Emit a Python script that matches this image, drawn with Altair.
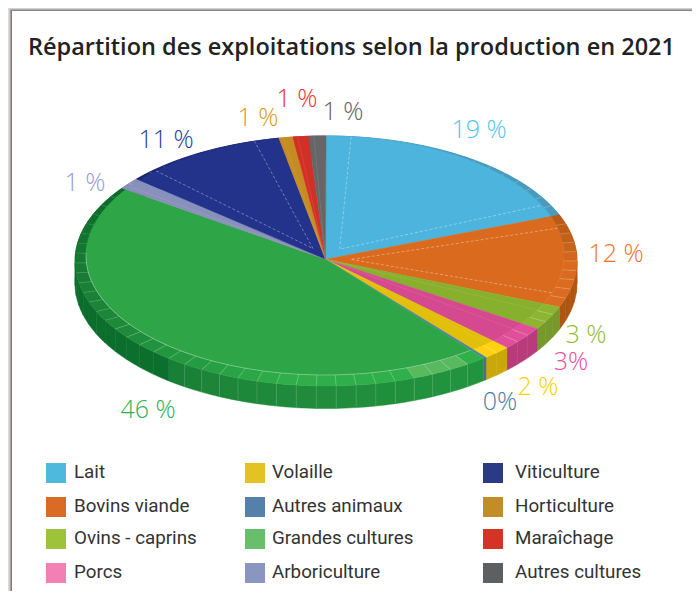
import math
import altair as alt

# ---------- data ----------
categories = ["Lait", "Bovins viande", "Ovins - caprins", "Porcs", "Volaille", "Autres animaux",
              "Grandes cultures", "Arboriculture", "Viticulture", "Horticulture", "Maraîchage", "Autres cultures"]
shares = [19.0, 12.0, 3.1, 3.1, 1.8, 0.2, 45.7, 1.5, 10.6, 0.9, 1.0, 1.1]
labels = ["19 %", "12 %", "3 %", "3%", "2 %", "0%", "46 %", "1 %", "11 %", "1 %", "1 %", "1 %"]

# ---------- styles ----------
top_colors = ["#4cb4dd", "#d96a1e", "#88b02f", "#d4498f", "#e2bf09", "#5580a8",
              "#2ea546", "#8891bb", "#23328a", "#c48c22", "#d22f26", "#646668"]
rim_stops = [[(0, "#4a9abb"), (1, "#4a9abb")],
             [(0, "#b75a14"), (.3, "#c4611a"), (.55, "#d96a1f"), (1, "#dc6c20")],
             [(0, "#8db532"), (1, "#8db532")],
             [(0, "#e0509a"), (1, "#e0509a")],
             [(0, "#ffd20f"), (1, "#ffd20f")],
             [(0, "#5580a8"), (1, "#5580a8")],
             [(0, "#2fb04a"), (.035, "#2fb04a"), (.04, "#58b95f"), (.12, "#58b95f"), (.125, "#2fb04a"),
              (.30, "#2fae49"), (.40, "#27a044"), (.55, "#1f8d3b"), (.75, "#177c34"), (.9, "#0f702d"), (1, "#0b6a2a")],
             [(0, "#8891bb"), (1, "#8891bb")],
             [(0, "#1a2770"), (1, "#1a2770")],
             [(0, "#c48c22"), (1, "#c48c22")],
             [(0, "#d22f26"), (1, "#d22f26")],
             [(0, "#646668"), (1, "#646668")]]
wall_stops = [[(0, "#3f8fae"), (1, "#3f8fae")],
              [(0, "#ae5511"), (1, "#ae5511")],
              [(0, "#76992b"), (1, "#76992b")],
              [(0, "#b83c7c"), (1, "#b83c7c")],
              [(0, "#c9a90a"), (1, "#c9a90a")],
              [(0, "#4a7090"), (1, "#4a7090")],
              [(0, "#22943e"), (.3, "#1f8a3b"), (.4, "#1c8538"), (.46, "#187f37"), (.48, "#0c6f2d"), (1, "#0a6b2a")],
              [(0, "#6f78a0"), (1, "#6f78a0")],
              [(0, "#1a2770"), (1, "#1a2770")],
              [(0, "#a87a1c"), (1, "#a87a1c")],
              [(0, "#b02820"), (1, "#b02820")],
              [(0, "#505254"), (1, "#505254")]]
label_colors = ["#4fc6f2", "#f47028", "#93bb35", "#ea4f9a", "#ffd000", "#4c7da8",
                "#2fb052", "#92a0d6", "#27409b", "#d99a28", "#ee3030", "#626262"]
legend_colors = ["#4fb8dd", "#d96b27", "#9cc33a", "#f280b5", "#e3c324", "#5580a9",
                 "#68bf6b", "#8a96bf", "#2a3a85", "#c28d24", "#d43326", "#5c6063"]

# ---------- layout (chart pixels, i.e. page pixels minus the 8 px margin) ----------
M = 8
CX, CY, RX, RY = 326 - M, 261 - M, 251, 125      # outer ellipse
IX, IY, IRX, IRY = 325 - M, 255.5 - M, 239, 119.5  # inner (bevel) ellipse
AX, AY = 325.5 - M, 259.3 - M                    # apex
DEPTH = 22.5
label_pos = [(479, 130), (616, 254), (586, 335), (571, 362), (538, 387), (500, 402),
             (148, 410), (85, 183), (166, 140), (258, 118), (297, 99), (343, 112)]
legend_x = [46 - M, 245 - M, 483 - M]
legend_tx = [74 - M, 272 - M, 515 - M]
legend_y = [463 - M, 497 - M, 529 - M, 563 - M]


def hex2rgb(h):
    return [int(h[i:i + 2], 16) for i in (1, 3, 5)]


def mix(stops, f):
    for (f0, c0), (f1, c1) in zip(stops, stops[1:]):
        if f <= f1:
            t = 0 if f1 == f0 else (f - f0) / (f1 - f0)
            a, b = hex2rgb(c0), hex2rgb(c1)
            return "#%02x%02x%02x" % tuple(round(x + (y - x) * t) for x, y in zip(a, b))
    return stops[-1][1]


def outer(p):
    t = p / 100 * 2 * math.pi
    return (CX + RX * math.sin(t), CY - RY * math.cos(t))


def inner(p):
    ox, oy = outer(p)
    dx, dy = ox - AX, oy - AY
    ex, ey = AX - IX, AY - IY
    a = (dx / IRX) ** 2 + (dy / IRY) ** 2
    b = 2 * (dx * ex / IRX ** 2 + dy * ey / IRY ** 2)
    c = (ex / IRX) ** 2 + (ey / IRY) ** 2 - 1
    s = (-b + math.sqrt(b * b - 4 * a * c)) / (2 * a)
    s = min(s, 1)
    return (AX + s * dx, AY + s * dy)


def steps(a, b, n):
    return [a + (b - a) * i / n for i in range(n + 1)]


def poly(pts, fill, opacity=1.0):
    pts = [list(p) for p in pts] + [list(pts[0])]
    return {"type": "Feature", "properties": {"fill": fill, "op": opacity},
            "geometry": {"type": "Polygon", "coordinates": [pts]}}


def line(pts, color, opacity):
    return {"type": "Feature", "properties": {"c": color, "op": opacity},
            "geometry": {"type": "LineString", "coordinates": [list(p) for p in pts]}}


SEG = 1.3
walls, rims, tops, seps, wall_seps, dashes, faint = [], [], [], [], [], [], []
start = 0.0
for i, s in enumerate(shares):
    end = start + s
    n = max(1, math.ceil(s / SEG))
    edges = steps(start, end, n)
    for a, b in zip(edges, edges[1:]):
        f = ((a + b) / 2 - start) / s
        arc = steps(a, b, 4)
        o = [outer(p) for p in arc]
        w = [(x, y + DEPTH) for x, y in o]
        walls.append(poly(o + w[::-1], mix(wall_stops[i], f)))
        rims.append(poly(o + [inner(p) for p in arc[::-1]], mix(rim_stops[i], f)))
    arc = steps(start, end, max(4, n * 3))
    tops.append(poly([(AX, AY)] + [inner(p) for p in arc], top_colors[i]))
    for p in edges[1:-1]:
        seps.append(line([inner(p), outer(p)], "#ffffff", .3 if i != 6 or (p - start) / s < .6 else .2))
        if i == 6 and (p - start) / s < .47:
            ox, oy = outer(p)
            wall_seps.append(line([(ox, oy), (ox, oy + DEPTH)], "#ffffff", .2))
    if i in (0, 1, 8):
        d = 1.6
        mx, my = outer((start + end) / 2)
        bx, by = AX + (mx - AX) * .1, AY + (my - AY) * .1
        dashes.append(line([inner(start + d), (bx, by), inner(end - d)], "#ffffff", .5))
    elif i not in (5, 6):
        faint.append(line([(AX, AY), inner(start + s * .3)], "#f5d0a0", .22))
    start = end

# rim highlight along the front of the bevel
arc = steps(39.2, 76, 120)
seps.append(line([inner(p) for p in arc], "#ffffff", .45))

# ---------- frame ----------
W, H = 684, 583
frame = []
for x0, c in [(0, "#e0dbd9"), (1, "#cfcac8"), (2, "#a8a3a1"), (3, "#7f7a78")]:
    frame.append(poly([(x0, x0), (x0 + 1, x0), (x0 + 1, H), (x0, H)], c))
for y0, c in [(0, "#d5d0ce"), (1, "#b0aba9"), (2, "#8a8583")]:
    frame.append(poly([(y0 + 1, y0), (W, y0), (W, y0 + 1), (y0 + 1, y0 + 1)], c))

proj = dict(type="identity", scale=1, translate=[0, 0])


def fills(features, stroke=True):
    enc = {"fill": alt.Fill("properties.fill:N", scale=None, legend=None)}
    if stroke:
        enc["stroke"] = alt.Stroke("properties.fill:N", scale=None, legend=None)
    return alt.Chart(alt.Data(values=features)).mark_geoshape(strokeWidth=.5 if stroke else 0).encode(**enc).project(**proj)


def strokes(features, width, dash=None):
    kw = {"filled": False, "strokeWidth": width}
    if dash:
        kw["strokeDash"] = dash
    return alt.Chart(alt.Data(values=features)).mark_geoshape(**kw).encode(
        stroke=alt.Stroke("properties.c:N", scale=None, legend=None),
        strokeOpacity=alt.StrokeOpacity("properties.op:Q", scale=None, legend=None),
    ).project(**proj)


title_layer = alt.Chart(alt.Data(values=[{
    "t": "Répartition des exploitations selon la production en 2021", "lon": 28 - M, "lat": 48 - M}])).mark_text(
    font="Open Sans", fontSize=23.5, fontWeight=600, align="left", baseline="middle", color="#222222"
).encode(longitude="lon:Q", latitude="lat:Q", text="t:N").project(**proj)

label_rows = [{"t": t, "c": c, "lon": p[0] - M, "lat": p[1] - M} for t, c, p in zip(labels, label_colors, label_pos)]
label_layer = alt.Chart(alt.Data(values=label_rows)).mark_text(
    font="Open Sans", fontSize=25, fontWeight=300, align="center", baseline="middle"
).encode(longitude="lon:Q", latitude="lat:Q", text="t:N",
         color=alt.Color("c:N", scale=None, legend=None)).project(**proj)

legend_order = [[0, 1, 2, 3], [4, 5, 6, 7], [8, 9, 10, 11]]
sw, lt = [], []
for col, idxs in enumerate(legend_order):
    for row, k in enumerate(idxs):
        sw.append({"c": legend_colors[k], "lon": legend_x[col] + 10, "lat": legend_y[row] + 10})
        lt.append({"t": categories[k], "lon": legend_tx[col], "lat": legend_y[row] + 9})
swatches = alt.Chart(alt.Data(values=sw)).mark_square(size=400, opacity=1).encode(
    longitude="lon:Q", latitude="lat:Q",
    color=alt.Color("c:N", scale=None, legend=None)).project(**proj)
legend_text = alt.Chart(alt.Data(values=lt)).mark_text(
    font="Roboto", fontSize=18.8, align="left", baseline="middle", color="#333333"
).encode(longitude="lon:Q", latitude="lat:Q", text="t:N").project(**proj)

chart = alt.layer(
    fills(frame, stroke=False), fills(walls), strokes(wall_seps, .7),
    fills(rims), fills(tops), strokes(seps, .7), strokes(faint, .6), strokes(dashes, .7, [3, 2]),
    title_layer, label_layer, swatches, legend_text,
).properties(width=W, height=H, padding=0, background="#ffffff").configure_view(stroke=None)

chart.save("out.html", embed_options={"renderer": "svg", "actions": False})
